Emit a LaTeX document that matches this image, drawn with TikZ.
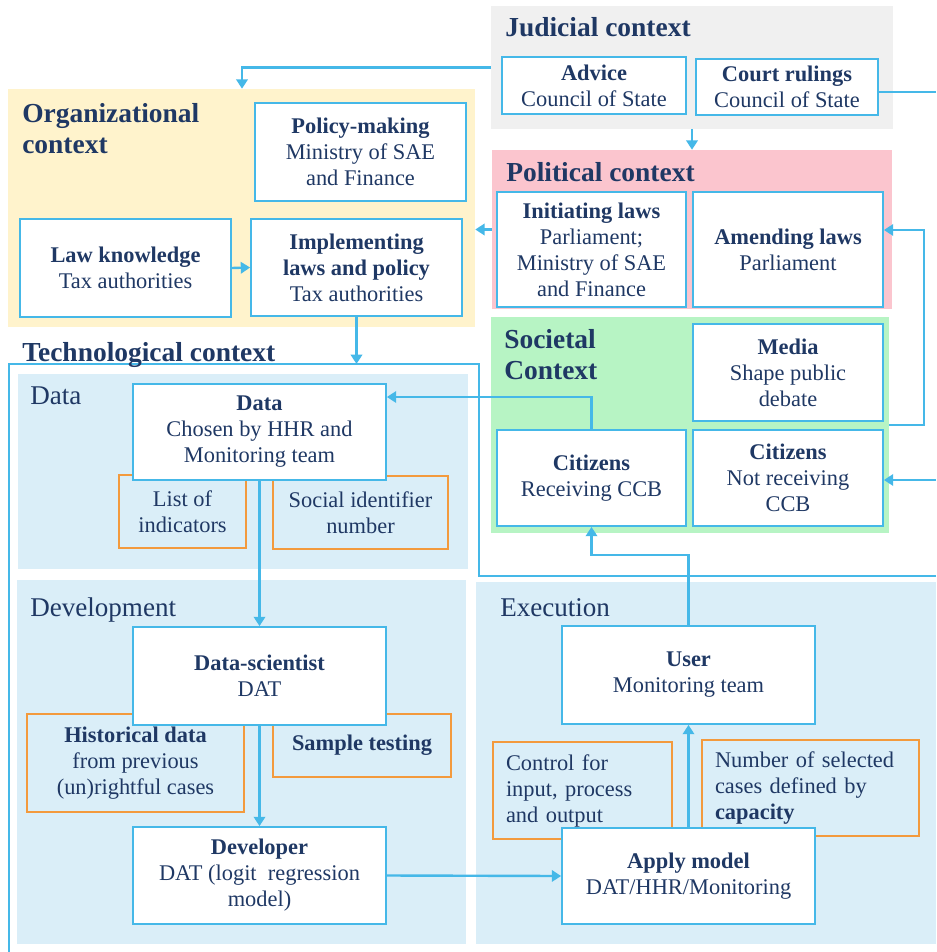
\documentclass[tikz,border=0pt]{standalone}
\usepackage{fontspec}
\setmainfont{Liberation Serif}
\usetikzlibrary{arrows.meta,fit}

\definecolor{navy}{HTML}{1F3864}
\definecolor{lineblue}{HTML}{45B8E8}
\definecolor{boxorange}{HTML}{F39A3D}
\definecolor{judgray}{HTML}{F0F0F0}
\definecolor{polpink}{HTML}{FBC5CE}
\definecolor{socgreen}{HTML}{B7F4C4}
\definecolor{orgyellow}{HTML}{FFF3CC}
\definecolor{panelblue}{HTML}{DAEEF8}

\newcommand\bxfont{\fontsize{16.8}{19.5}\selectfont}
\newcommand\ctxfont{\fontsize{20.6}{23.3}\selectfont\bfseries}
\newcommand\pnlfont{\fontsize{20.3}{24}\selectfont}

\tikzset{
  panel/.style={draw=none, inner sep=0pt},
  sz/.style 2 args={minimum width=#1*0.75pt, minimum height=#2*0.75pt},
  wbox/.style={draw=lineblue, fill=white, line width=1.3pt, inner sep=0pt,
    align=center, font=\bxfont, text=navy},
  obox/.style={draw=boxorange, line width=1.3pt, inner sep=0pt,
    align=center, font=\bxfont, text=navy},
  ctx/.style={inner sep=0pt, align=left, font=\ctxfont, text=navy},
  pnl/.style={inner sep=0pt, font=\pnlfont, text=navy},
  arr/.style={draw=lineblue, line width=1.8pt, -{Triangle[length=7pt,width=8.5pt]}},
  conn/.style={draw=lineblue, line width=1.8pt},
}

\begin{document}
\begin{tikzpicture}[x=0.75pt,y=-0.75pt]
\useasboundingbox (0,0) rectangle (936,952);
\fill[white] (0,0) rectangle (936,952);

% context backgrounds
\node[panel, fill=judgray,   fit={(491,6)(893,129)}]   (judicial) {};
\node[panel, fill=polpink,   fit={(492,150)(892,309)}] (political) {};
\node[panel, fill=socgreen,  fit={(491,317)(889,533)}] (societal) {};
\node[panel, fill=orgyellow, fit={(8,89)(475,327)}]    (org) {};
\node[panel, fill=panelblue, fit={(18,374)(468,569)}]  (datapanel) {};
\node[panel, fill=panelblue, fit={(17,580)(466,944)}]  (devpanel) {};
\node[panel, fill=panelblue, fit={(476,582)(936,944)}] (execpanel) {};

% technological context outline
\draw[lineblue, line width=1.3pt] (936,576) -- (479,576) -- (479,364) -- (9,364) -- (9,952);

% context titles
\node[ctx, anchor=base west] (judtitle) at (505,37) {Judicial context};
\node[ctx, anchor=base west] (poltitle) at (506,182) {Political context};
\node[ctx, anchor=north west] (soctitle) at (504,329) {Societal\\Context};
\node[ctx, anchor=north west] (orgtitle) at (22,103) {Organizational\\context};
\node[ctx, anchor=base west] (techtitle) at (22,361) {Technological context};
\node[pnl, anchor=base west] (datalabel) at (30,404) {Data};
\node[pnl, anchor=base west] (devlabel) at (30,616) {Development};
\node[pnl, anchor=base west] (execlabel) at (500,616) {Execution};

% judicial
\node[wbox, sz={184}{57}] (advice) at (594,85.5) {\textbf{Advice}\\Council of State};
\node[wbox, sz={182}{56}] (court) at (787,87) {\textbf{Court rulings}\\Council of State};
% political
\node[wbox, sz={189}{115}] (initiating) at (591.5,249.5) {\textbf{Initiating laws}\\Parliament;\\Ministry of SAE\\and Finance};
\node[wbox, sz={190}{115}] (amending) at (788,249.5) {\textbf{Amending laws}\\Parliament};
% societal
\node[wbox, sz={190}{97}] (media) at (788,372.5) {\textbf{Media}\\Shape public\\debate};
\node[wbox, sz={189}{96}] (citrec) at (591.5,478) {\textbf{Citizens}\\Receiving CCB};
\node[wbox, sz={190}{96}] (citnot) at (788,478) {\textbf{Citizens}\\Not receiving\\CCB};
% organizational
\node[wbox, sz={211}{98}] (policy) at (360.5,152) {\textbf{Policy-making}\\Ministry of SAE\\and Finance};
\node[wbox, sz={211}{98}] (lawk) at (125.5,268) {\textbf{Law knowledge}\\Tax authorities};
\node[wbox, sz={211}{97}] (impl) at (356.5,267.5) {\textbf{Implementing}\\\textbf{laws and policy}\\Tax authorities};

% technological: data
\node[obox, sz={127}{73}] (listind) at (182.5,511.5) {List of\\indicators};
\node[obox, sz={175}{73}] (socid) at (360.5,512.5) {Social identifier\\number};
\node[wbox, sz={253}{96}] (datab) at (259.5,432) {\textbf{Data}\\Chosen by HHR and\\Monitoring team};
% technological: development
\node[obox, sz={217}{98}] (hist) at (135.5,763) {\textbf{Historical data}\\from previous\\(un)rightful cases};
\node[obox, sz={178}{63}] (sample) at (362,745.5) {\textbf{Sample testing}};
\node[wbox, sz={253}{98}] (dsci) at (259.5,676) {\textbf{Data-scientist}\\DAT};
\node[wbox, sz={253}{97}] (dev) at (259.5,875.5) {\textbf{Developer}\\DAT (logit\ \ regression\\model)};
% technological: execution
\node[obox, sz={179}{97}, align=left, text width=114.75pt] (control) at (582.5,790.5) {Control for\\input, process\\and output};
\node[obox, sz={217}{96}, align=left, text width=143.25pt] (number) at (810.5,788) {Number of selected\\cases defined by\\\textbf{capacity}};
\node[wbox, sz={253}{98}] (user) at (688.5,675) {\textbf{User}\\Monitoring team};
\node[wbox, sz={253}{96}] (apply) at (688.5,876) {\textbf{Apply model}\\DAT/HHR/Monitoring};

% helper coordinates for routed connectors
\coordinate (xorgin) at (242,0);
\coordinate (courtout) at (936,92);
\coordinate (loopx) at (924,230);
\coordinate (citin) at (936,480);
\coordinate (yfeed) at (0,397);
\coordinate (yuser) at (0,555);
\coordinate (techtop) at (0,364);

% connectors
\draw[arr] (judicial.west) -| (org.north -| xorgin);
\draw[arr] (judicial.south) -- (political.north);
\draw[conn] (court.east |- courtout) -- (courtout);
\draw[arr] (political.west) -- (political.west -| org.east);
\draw[arr] (societal.east) -| (loopx) -- (amending.east |- loopx);
\draw[arr] (citin) -- (citnot.east |- citin);
\draw[arr] (citrec.north) |- (datab.east |- yfeed);
\draw[arr] (user.north) |- (citrec.south |- yuser) -- (citrec.south);
\draw[arr] (impl.south) -- (impl.south |- techtop);
\draw[arr] (lawk.east) -- (impl.west);
\draw[arr] (datab.south) -- (dsci.north);
\draw[arr] (dsci.south) -- (dev.north);
\draw[arr] (dev.east) -- (apply.west);
\draw[arr] (apply.north) -- (user.south);
\end{tikzpicture}
\end{document}
